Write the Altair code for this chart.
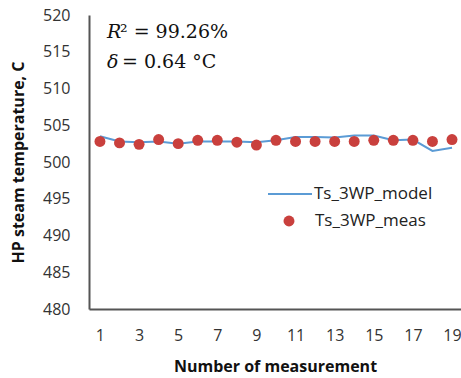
import altair as alt
import pandas as pd

n = list(range(1, 20))
model = [503.5, 502.8, 502.7, 502.8, 502.5, 502.8, 502.8, 502.8, 502.7, 502.95,
         503.4, 503.4, 503.35, 503.6, 503.6, 502.95, 503.05, 501.5, 501.95]
meas = [502.8, 502.6, 502.4, 503.05, 502.5, 502.95, 502.95, 502.7, 502.3, 502.95,
        502.8, 502.8, 502.8, 502.8, 502.95, 502.95, 502.95, 502.8, 503.05]
x_ticks = [1, 3, 5, 7, 9, 11, 13, 15, 17, 19]
y_ticks = [480, 485, 490, 495, 500, 505, 510, 515, 520]

df = pd.DataFrame({"n": n, "model": model, "meas": meas})

BLUE = "#5B9BD5"
RED = "#C9403D"
FONT = "Open Sans"

x_scale = alt.Scale(domain=[0.44, 19.46], nice=False, zero=False)
y_scale = alt.Scale(domain=[480, 520], nice=False, zero=False)
x_axis = alt.Axis(values=x_ticks, title="Number of measurement", grid=False,
                  ticks=False, labelPadding=18, titlePadding=15,
                  labelFlush=False, labelOverlap=False)
y_axis = alt.Axis(values=y_ticks, title="HP steam temperature, C", grid=False,
                  ticks=False, labelPadding=19, titlePadding=16,
                  labelOverlap=False, labelFlush=False)

base = alt.Chart(df)
line = base.mark_line(color=BLUE, strokeWidth=2).encode(
    x=alt.X("n:Q", scale=x_scale, axis=x_axis),
    y=alt.Y("model:Q", scale=y_scale, axis=y_axis))
pts = base.mark_circle(color=RED, size=120, opacity=1).encode(
    x=alt.X("n:Q", scale=x_scale, axis=x_axis),
    y=alt.Y("meas:Q", scale=y_scale, axis=y_axis))

one = pd.DataFrame({"k": [0]})
ann = alt.Chart(one)
r_i = ann.mark_text(text="R", font="DejaVu Serif", fontStyle="italic", fontSize=19,
                    align="left", baseline="middle", color="#111").encode(
    x=alt.value(18), y=alt.value(17))
r_rest = ann.mark_text(text="\u00b2 = 99.26%", font="DejaVu Serif", fontSize=19,
                       align="left", baseline="middle", color="#111").encode(
    x=alt.value(31), y=alt.value(17))
d_i = ann.mark_text(text="\u03b4", font="DejaVu Serif", fontStyle="italic", fontSize=19,
                    align="left", baseline="middle", color="#111").encode(
    x=alt.value(18), y=alt.value(47))
d_rest = ann.mark_text(text="= 0.64 \u00b0C", font="DejaVu Serif", fontSize=19,
                       align="left", baseline="middle", color="#111").encode(
    x=alt.value(33), y=alt.value(47))

leg_line = ann.mark_rule(color=BLUE, strokeWidth=2).encode(
    x=alt.value(179), x2=alt.value(223), y=alt.value(179))
leg_dot = ann.mark_circle(color=RED, size=120, opacity=1).encode(
    x=alt.value(200), y=alt.value(206))
leg_t1 = ann.mark_text(text="Ts_3WP_model", font=FONT, fontSize=17, align="left",
                       baseline="middle", color="#222").encode(
    x=alt.value(225), y=alt.value(179))
leg_t2 = ann.mark_text(text="Ts_3WP_meas", font=FONT, fontSize=17, align="left",
                       baseline="middle", color="#222").encode(
    x=alt.value(226), y=alt.value(206))

chart = alt.layer(line, pts, r_i, r_rest, d_i, d_rest, leg_line, leg_dot, leg_t1, leg_t2).properties(
    width=372, height=294,
    autosize=alt.AutoSizeParams(type="none"),
    padding={"left": 89, "top": 15, "right": 0, "bottom": 69},
    background="white",
).configure_view(stroke=None).configure_axis(
    domainColor="#555555", domainWidth=2,
    labelFont=FONT, labelFontSize=16, labelColor="#333333",
    titleFont=FONT, titleFontSize=16, titleFontWeight="bold", titleColor="#111111",
)

chart.save("out.html", embed_options={"renderer": "svg", "actions": False})
